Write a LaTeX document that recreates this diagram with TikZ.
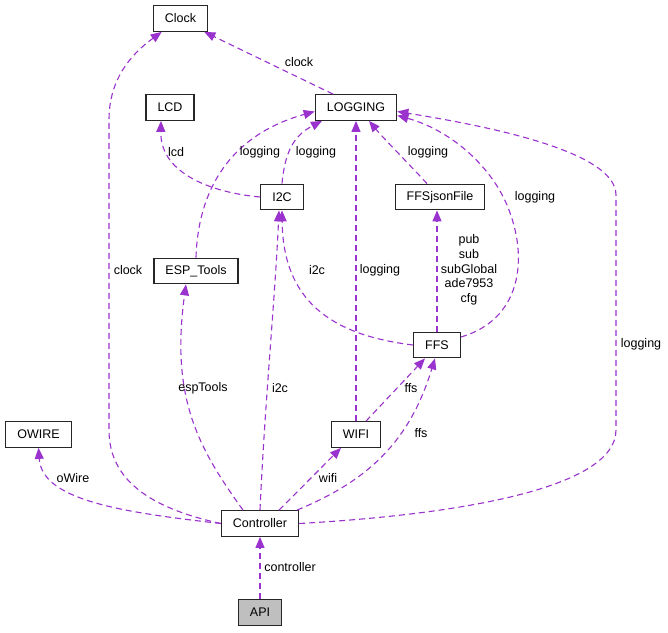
\documentclass[tikz,border=0pt]{standalone}
\usepackage{fontspec}
\setmainfont{Liberation Sans}
\usetikzlibrary{arrows.meta}
\definecolor{usage}{HTML}{9A32CD}
\definecolor{focusgray}{HTML}{BFBFBF}

\begin{document}
\begin{tikzpicture}[x=1pt,y=-1pt,>={Triangle[length=11pt,width=9pt]},
		every node/.style={font=\fontsize{12.5}{14.7}\selectfont},
		cls/.style={draw=black!85,line width=1.3pt,fill=white,inner xsep=11.5pt,inner ysep=0pt,minimum height=25.5pt},
		rel/.style={->,draw=usage,line width=1.1pt,dash pattern=on 6pt off 4pt},
		lbl/.style={inner sep=1pt,align=center}]
			\fill[white] (0,0) rectangle (668,632);
			\useasboundingbox (0,0) rectangle (668,632);
			\node[cls] (clock) at (180.5,18.5) {Clock};
			\node[cls] (lcd) at (170,107.5) {LCD};
			\node[cls] (logging) at (356,107.5) {LOGGING};
			\node[cls] (i2c) at (282,197) {I2C};
			\node[cls] (ffsjson) at (440,197) {FFSjsonFile};
			\node[cls] (esptools) at (196,271) {ESP\_Tools};
			\node[cls] (ffs) at (437,345) {FFS};
			\node[cls] (owire) at (38.5,434.5) {OWIRE};
			\node[cls] (wifi) at (356,434.5) {WIFI};
			\node[cls] (controller) at (260,523.5) {Controller};
			\node[cls,fill=focusgray] (api) at (260,612.5) {API};
			\draw[rel] (controller.west) .. controls (150,508) and (109,480) .. (109,430) -- (109,120) .. controls (109,80) and (130,55) .. ([xshift=9pt]clock.south west);
			\draw[rel] ([xshift=-23pt]logging.north) -- ([xshift=-4pt]clock.south east);
			\draw[rel] (i2c.west) .. controls (215,193) and (160,175) .. ([xshift=-9pt]lcd.south);
			\draw[rel] (i2c.north) .. controls (285,150) and (295,135) .. ([xshift=-34pt]logging.south);
			\draw[rel] (esptools.north) .. controls (198,190) and (230,135) .. ([yshift=-4pt]logging.west);
			\draw[rel] (wifi.north) -- (logging.south);
			\draw[rel] ([xshift=-13pt]ffsjson.north) .. controls (410,165) and (385,140) .. ([xshift=13pt]logging.south);
			\draw[rel] ([yshift=8pt]ffs.east) .. controls (520,320) and (530,260) .. (507,205) .. controls (490,165) and (450,130) .. ([yshift=-8pt]logging.east);
			\draw[rel] (controller.east) .. controls (450,515) and (616,490) .. (616,430) -- (616,195) .. controls (616,150) and (480,125) .. ([yshift=-4pt]logging.east);
			\draw[rel] (ffs.north) -- (ffs.north |- ffsjson.south);
			\draw[rel] (ffs.west) .. controls (330,335) and (283,300) .. (i2c.south);
			\draw[rel] (controller.north) .. controls (265,400) and (275,300) .. ([xshift=-3pt]i2c.south);
			\draw[rel] ([xshift=-17pt]controller.north) .. controls (200,450) and (170,400) .. ([xshift=-10pt]esptools.south);
			\draw[rel] (controller.west) .. controls (120,512) and (42,500) .. (owire.south);
			\draw[rel] ([xshift=19pt]controller.north) -- ([xshift=-15pt]wifi.south);
			\draw[rel] ([xshift=37pt]controller.north) .. controls (370,480) and (410,440) .. ([xshift=-2pt]ffs.south);
			\draw[rel] ([xshift=10pt]wifi.north) -- ([xshift=-12pt]ffs.south);
			\draw[rel] (api) -- (controller);
			\foreach \n/\x/\y/\t in {lclocka/299/62/clock, lclockb/128/270/clock, llcd/176/152/lcd,
				lloga/260/152/logging, llogb/316/152/logging, llogc/428/152/logging, llogd/380/270/logging,
				lloge/535/197/logging, llogf/641/344/logging, li2ca/317/270/i2c, li2cb/280/388/i2c,
				lesp/203/388/espTools, lffsa/411/388/ffs, lffsb/421/433/ffs, lowire/73/478/oWire,
				lwifi/328/478/wifi, lcontroller/290/567/controller}
			\node[lbl] (\n) at (\x,\y) {\t};
			\node[lbl] (lffsjson) at (469,270) {pub\\sub\\subGlobal\\ade7953\\cfg};
		\end{tikzpicture}
\end{document}
